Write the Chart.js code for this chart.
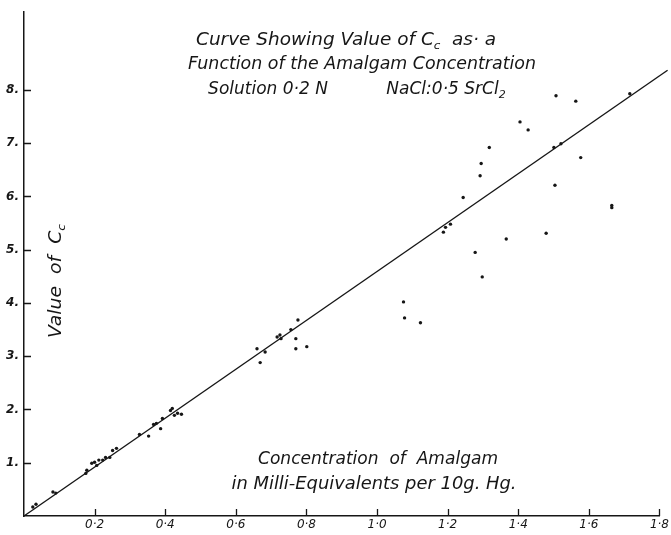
<!DOCTYPE html>
<html>
<head>
<meta charset="utf-8">
<script src="https://cdn.jsdelivr.net/npm/chart.js@4.4.1/dist/chart.umd.min.js"></script>
<style>
  html, body { margin: 0; padding: 0; background: #fff; }
  canvas { display: block; }
</style>
</head>
<body>
<canvas id="ccChart" width="671" height="535"></canvas>
<script>
// Readings: amalgam concentration (milli-equiv. per 10 g Hg) and value of Cc
var concentration = [
    0.025, 0.034, 0.082, 0.090, 0.175, 0.178, 0.192, 0.200, 0.206, 0.212,
    0.223, 0.231, 0.243, 0.251, 0.262, 0.327, 0.353, 0.367, 0.375, 0.387,
    0.392, 0.415, 0.420, 0.426, 0.435, 0.446,
    0.660, 0.669, 0.683, 0.717, 0.725, 0.728, 0.756, 0.776, 0.770, 0.770,
    0.801, 1.075, 1.078, 1.123,
    1.405, 1.428, 1.318, 1.295, 1.292, 1.244, 1.208, 1.194, 1.188, 1.278,
    1.298, 1.366, 1.479, 1.501, 1.521, 1.577, 1.504, 1.665, 1.665, 1.507,
    1.563, 1.716
];
var valueCc = [
    0.17, 0.22, 0.45, 0.43, 0.80, 0.86, 0.99, 1.01, 0.95, 1.05,
    1.05, 1.10, 1.10, 1.23, 1.27, 1.53, 1.50, 1.72, 1.74, 1.64,
    1.83, 1.98, 2.02, 1.89, 1.93, 1.91,
    3.14, 2.88, 3.08, 3.36, 3.40, 3.33, 3.50, 3.68, 3.33, 3.14,
    3.18, 4.02, 3.72, 3.63,
    7.40, 7.25, 6.92, 6.62, 6.39, 5.98, 5.48, 5.42, 5.33, 4.95,
    4.49, 5.20, 5.31, 6.92, 6.99, 6.73, 6.21, 5.83, 5.79, 7.89,
    7.79, 7.93
];

// the ruled line, from the origin to where it leaves the sheet
var fitConc = [0, 1.823];
var fitCc = [0, 8.37];

var xTickValues = [0.2, 0.4, 0.6, 0.8, 1.0, 1.2, 1.4, 1.6, 1.8];
var xTickLabels = ['0·2', '0·4', '0·6', '0·8', '1·0', '1·2', '1·4', '1·6', '1·8'];
var yTickValues = [1, 2, 3, 4, 5, 6, 7, 8];
var yTickLabels = ['1.', '2.', '3.', '4.', '5.', '6.', '7.', '8.'];

var ink = '#161616';
var handFont = "italic 17px 'DejaVu Sans'";
var subFont = "italic 11px 'DejaVu Sans'";

function toPoints(xs, ys) {
    return xs.map(function(x, i) { return { x: x, y: ys[i] }; });
}

// one line of hand lettering with optional subscripts, centred on cx and
// optionally squeezed/stretched sideways to the width it takes on the drawing
function drawRich(ctx, parts, cx, cy, width) {
    var w = 0;
    parts.forEach(function(p) {
        ctx.font = p.sub ? subFont : handFont;
        w += ctx.measureText(p.t).width;
    });
    ctx.save();
    ctx.translate(cx, cy);
    if (width) ctx.scale(width / w, 1);
    var x = -w / 2;
    parts.forEach(function(p) {
        ctx.font = p.sub ? subFont : handFont;
        ctx.fillText(p.t, x, p.sub ? 5 : 0);
        x += ctx.measureText(p.t).width;
    });
    ctx.restore();
}

var handLabels = {
    id: 'handLabels',
    afterDraw: function(chart) {
        var ctx = chart.ctx;
        var xs = chart.scales.x, ys = chart.scales.y;

        // tick marks point inward, as on the drawing
        ctx.save();
        ctx.strokeStyle = ink;
        ctx.lineWidth = 1.3;
        ctx.beginPath();
        xTickValues.forEach(function(v) {
            var px = Math.round(xs.getPixelForValue(v)) + 0.5;
            ctx.moveTo(px, xs.top);
            ctx.lineTo(px, xs.top - 7);
        });
        yTickValues.forEach(function(v) {
            var py = Math.round(ys.getPixelForValue(v)) + 0.5;
            ctx.moveTo(ys.right, py);
            ctx.lineTo(ys.right + 7, py);
        });
        ctx.stroke();

        ctx.fillStyle = ink;
        ctx.textBaseline = 'middle';
        ctx.textAlign = 'left';
        drawRich(ctx, [{ t: 'Curve Showing Value of C' }, { t: 'c', sub: true }, { t: '  as· a' }], 346, 41, 300);
        drawRich(ctx, [{ t: 'Function of the Amalgam Concentration' }], 362, 65, 348);
        drawRich(ctx, [{ t: 'Solution 0·2 N' }], 268, 90);
        drawRich(ctx, [{ t: 'NaCl:0·5 SrCl' }, { t: '2', sub: true }], 446, 90);
        drawRich(ctx, [{ t: 'Concentration  of  Amalgam' }], 378, 460, 240);
        drawRich(ctx, [{ t: 'in Milli-Equivalents per 10g. Hg.' }], 374, 485, 285);

        ctx.translate(57, 281);
        ctx.rotate(-Math.PI / 2);
        drawRich(ctx, [{ t: 'Value  of  C' }, { t: 'c', sub: true }], 0, 0, 114);
        ctx.restore();
    }
};

var ctx = document.getElementById('ccChart').getContext('2d');
var ccChart = new Chart(ctx, {
    type: 'scatter',
    data: {
        datasets: [{
            label: 'Cc',
            data: toPoints(concentration, valueCc),
            backgroundColor: ink,
            borderWidth: 0,
            pointRadius: 1.7
        }, {
            type: 'line',
            label: 'fit',
            data: toPoints(fitConc, fitCc),
            borderColor: ink,
            borderWidth: 1.4,
            pointRadius: 0,
            fill: false,
            clip: false
        }]
    },
    options: {
        responsive: false,
        animation: false,
        devicePixelRatio: 1,
        layout: { padding: { top: 10, right: 9, left: 0, bottom: 0 } },
        plugins: {
            legend: { display: false },
            tooltip: { enabled: false }
        },
        scales: {
            x: {
                type: 'linear',
                min: 0,
                max: 1.8,
                afterBuildTicks: function(scale) {
                    scale.ticks = xTickValues.map(function(v) { return { value: v }; });
                },
                afterFit: function(scale) { scale.height = 19; },
                ticks: {
                    padding: 2,
                    maxRotation: 0,
                    color: ink,
                    font: { family: 'DejaVu Sans', style: 'italic', size: 12 },
                    callback: function(v) {
                        var i = xTickValues.indexOf(Math.round(v * 10) / 10);
                        return i >= 0 ? xTickLabels[i] : '';
                    }
                },
                grid: { drawOnChartArea: false, drawTicks: false },
                border: { color: ink, width: 1.5 }
            },
            y: {
                type: 'linear',
                min: 0,
                max: 9.46,
                afterBuildTicks: function(scale) {
                    scale.ticks = yTickValues.map(function(v) { return { value: v }; });
                },
                afterFit: function(scale) { scale.width = 24; },
                ticks: {
                    padding: 5,
                    color: ink,
                    font: { family: 'DejaVu Sans', style: 'italic', weight: 'bold', size: 12 },
                    callback: function(v) {
                        var i = yTickValues.indexOf(v);
                        return i >= 0 ? yTickLabels[i] : '';
                    }
                },
                grid: { drawOnChartArea: false, drawTicks: false },
                border: { color: ink, width: 1.5 }
            }
        }
    },
    plugins: [handLabels]
});
</script>
</body>
</html>
